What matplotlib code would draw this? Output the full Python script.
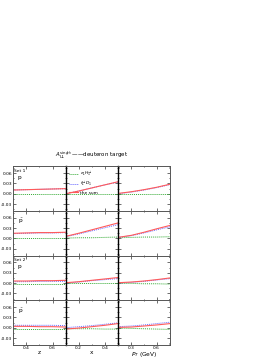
import matplotlib
matplotlib.use('Agg')
import matplotlib.pyplot as plt
from matplotlib.ticker import MultipleLocator

# === x grids for the three columns ===
z_vals = [0.3, 0.4, 0.5, 0.6, 0.7]
x_vals = [0.1, 0.2, 0.3, 0.4, 0.5]
pt_vals = [0.14, 0.3, 0.45, 0.6, 0.76]

# === curves: (eL H1perp, fL perp D1, sum) ===
# Set 1, pi+
s1_pip_z = ([-0.002] * 5, [0.011, 0.012, 0.013, 0.014, 0.015], [0.011, 0.012, 0.013, 0.014, 0.015])
s1_pip_x = ([-0.002] * 5, [0.0, 0.008, 0.017, 0.026, 0.034], [0.0, 0.008, 0.017, 0.026, 0.035])
s1_pip_pt = ([-0.002] * 5, [0.0, 0.005, 0.011, 0.018, 0.027], [0.001, 0.006, 0.012, 0.019, 0.028])
# Set 1, pi-
s1_pim_z = ([0.0] * 5, [0.014, 0.015, 0.016, 0.016, 0.017], [0.015, 0.016, 0.017, 0.017, 0.018])
s1_pim_x = ([0.001, 0.002, 0.002, 0.003, 0.004], [0.005, 0.013, 0.022, 0.031, 0.040], [0.006, 0.015, 0.025, 0.035, 0.045])
s1_pim_pt = ([0.002, 0.003, 0.004, 0.004, 0.005], [0.003, 0.008, 0.016, 0.025, 0.034], [0.003, 0.009, 0.018, 0.028, 0.038])
# Set 2, pi+
s2_pip_z = ([-0.002] * 5, [0.004, 0.004, 0.005, 0.005, 0.005], [0.006, 0.006, 0.007, 0.007, 0.008])
s2_pip_x = ([-0.001] * 5, [0.0, 0.003, 0.007, 0.010, 0.013], [0.001, 0.004, 0.008, 0.012, 0.016])
s2_pip_pt = ([-0.001, -0.001, -0.002, -0.002, -0.003], [0.0, 0.002, 0.005, 0.009, 0.013], [0.001, 0.003, 0.006, 0.010, 0.015])
# Set 2, pi-
s2_pim_z = ([-0.004] * 5, [0.007, 0.007, 0.007, 0.007, 0.006], [0.004, 0.004, 0.003, 0.003, 0.002])
s2_pim_x = ([-0.003, -0.003, -0.003, -0.004, -0.004], [0.0, 0.003, 0.006, 0.010, 0.014], [-0.004, -0.001, 0.003, 0.007, 0.012])
s2_pim_pt = ([-0.001, -0.002, -0.003, -0.004, -0.005], [0.003, 0.005, 0.008, 0.012, 0.016], [0.001, 0.002, 0.005, 0.008, 0.012])

rows = [
    [s1_pip_z, s1_pip_x, s1_pip_pt],
    [s1_pim_z, s1_pim_x, s1_pim_pt],
    [s2_pip_z, s2_pip_x, s2_pip_pt],
    [s2_pim_z, s2_pim_x, s2_pim_pt],
]
row_labels = ['p', r'$\bar{\rm p}$', 'p', r'$\bar{\rm p}$']
set_labels = ['Set 1', None, 'Set 2', None]
col_x = [z_vals, x_vals, pt_vals]
col_lims = [(0.3, 0.7), (0.1, 0.5), (0.14, 0.76)]
col_major = [0.2, 0.2, 0.3]
col_minor = [0.1, 0.1, 0.15]
col_names = ['z', 'x', r'$P_T$ (GeV)']
legend_names = [r'$e_LH_1^{\perp}$', r'$f_L^{\perp}D_1$', 'the sum']

fs = 3.2
fig = plt.figure(figsize=(2.78, 3.60), dpi=100)
axes = fig.subplots(4, 3)
fig.subplots_adjust(left=0.048, right=0.612, top=0.538, bottom=0.042, wspace=0, hspace=0)

for r in range(4):
    for c in range(3):
        ax = axes[r, c]
        g, b, s = rows[r][c]
        xs = col_x[c]
        ax.plot(xs, g, color='#33aa33', ls=(0, (1, 1)), lw=0.7, label=legend_names[0])
        ax.plot(xs, b, color='#6666ff', ls=(0, (1, 1)), lw=0.7, label=legend_names[1])
        ax.plot(xs, s, color='#ff5a5a', ls='-', lw=0.8, label=legend_names[2])
        ax.set_xlim(*col_lims[c])
        ax.set_ylim(-0.05, 0.08)
        ax.yaxis.set_major_locator(MultipleLocator(0.03))
        ax.yaxis.set_minor_locator(MultipleLocator(0.015))
        ax.xaxis.set_major_locator(MultipleLocator(col_major[c]))
        ax.xaxis.set_minor_locator(MultipleLocator(col_minor[c]))
        ax.tick_params(which='both', direction='in', top=True, right=True,
                       labelsize=fs, pad=1, width=0.4)
        ax.tick_params(which='major', length=2)
        ax.tick_params(which='minor', length=1)
        for sp in ax.spines.values():
            sp.set_linewidth(0.7)
            sp.set_color('#555555')
        if c > 0:
            ax.spines['left'].set_color('black')
            ax.spines['left'].set_linewidth(1.0)
        if c == 0:
            ax.yaxis.set_major_formatter(plt.FuncFormatter(lambda v, p: '%.2f' % v if abs(v) > 1e-9 else '0.00'))
            ax.text(0.08, 0.72, row_labels[r], transform=ax.transAxes, fontsize=4.2)
            if set_labels[r]:
                ax.text(0.02, 0.88, set_labels[r], transform=ax.transAxes, fontsize=fs)
        else:
            ax.set_yticklabels([])
        if r == 3:
            ax.set_xlabel(col_names[c], fontsize=4.2, labelpad=0)
        else:
            ax.set_xticklabels([])

axes[0, 1].legend(loc='upper left', fontsize=3.2, frameon=False, handlelength=2.2,
                  handletextpad=0.3, labelspacing=0.3, borderaxespad=0.3)

fig.text(0.33, 0.553, r'$A_{UL}^{\sin\phi_h}$ ——deuteron target', ha='center', va='bottom', fontsize=4)

plt.savefig('out.png', dpi=100)
